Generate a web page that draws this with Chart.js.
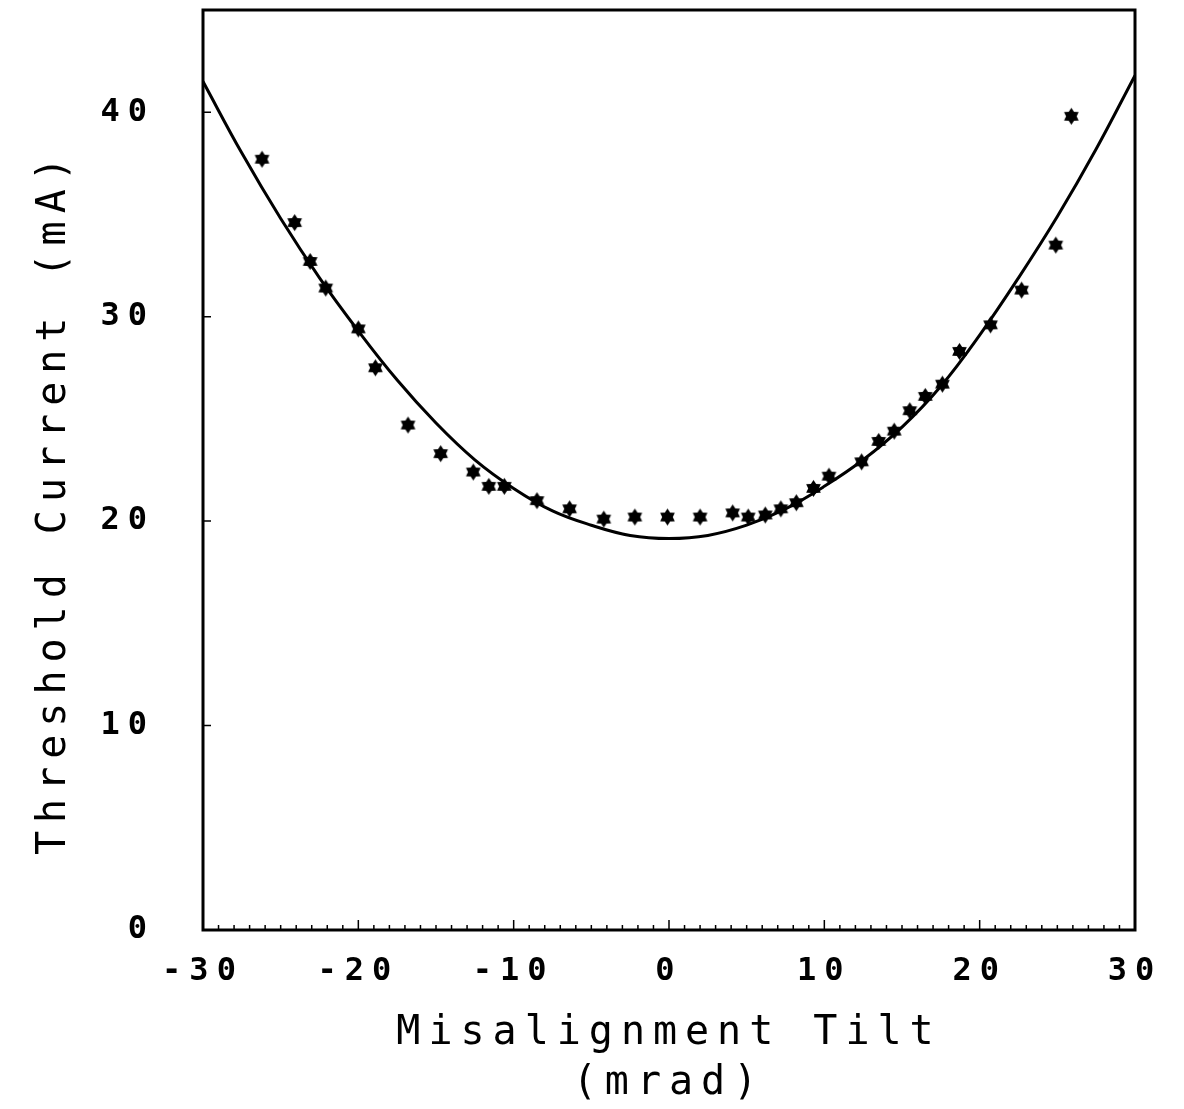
<!DOCTYPE html>
<html>
<head>
<meta charset="utf-8">
<script src="https://cdn.jsdelivr.net/npm/chart.js@4.4.1/dist/chart.umd.min.js"></script>
<style>
    body { margin: 0; background: #ffffff; }
</style>
</head>
<body>
<canvas id="grafico" width="1184" height="1109"></canvas>
<script>
// medições (asteriscos)
const tiltMedido = [-26.2, -24.1, -23.1, -22.1, -20.0, -18.9, -16.8, -14.7, -12.6, -11.6, -10.6, -8.5, -6.4, -4.2, -2.2, -0.1,
    2.0, 4.1, 5.1, 6.2, 7.2, 8.2, 9.3, 10.3, 12.4, 13.5, 14.5, 15.5, 16.5, 17.6, 18.7, 20.7, 22.7, 24.9, 25.9];
const correnteMedida = [37.7, 34.6, 32.7, 31.4, 29.4, 27.5, 24.7, 23.3, 22.4, 21.7, 21.7, 21.0, 20.6, 20.1, 20.2, 20.2,
    20.2, 20.4, 20.2, 20.3, 20.6, 20.9, 21.6, 22.2, 22.9, 23.9, 24.4, 25.4, 26.1, 26.7, 28.3, 29.6, 31.3, 33.5, 39.8];

// curva teórica
const tiltCurva = [-30, -27.5, -25, -22.5, -20, -17.5, -15, -12.5, -10, -7.5, -5, -2.5, 0,
    2.5, 5, 7.5, 10, 12.5, 15, 17.5, 20, 22.5, 25, 27.5, 30];
const correnteCurva = [41.5, 38.0, 34.8, 31.9, 29.3, 26.9, 24.8, 23.0, 21.6, 20.5, 19.8, 19.3, 19.15,
    19.3, 19.8, 20.6, 21.7, 23.0, 24.6, 26.6, 29.1, 31.9, 34.9, 38.2, 41.8];

const tituloX = ['Misalignment Tilt', '(mrad)'];
const tituloY = 'Threshold Current (mA)';

const FONTE = "'DejaVu Sans Mono', 'Liberation Mono', monospace";

function criarAsterisco(r) {
    const c = document.createElement('canvas');
    c.width = c.height = 2 * r + 2;
    const g = c.getContext('2d');
    g.beginPath();
    for (let i = 0; i < 12; i++) {
        const ang = i * Math.PI / 6 - Math.PI / 2;
        const raio = i % 2 ? r * 0.62 : r;
        const px = r + 1 + raio * Math.cos(ang), py = r + 1 + raio * Math.sin(ang);
        if (i === 0) g.moveTo(px, py); else g.lineTo(px, py);
    }
    g.closePath();
    g.fillStyle = '#000';
    g.fill();
    return c;
}

const espacamento = {
    id: 'espacamento',
    beforeUpdate(chart) { chart.ctx.letterSpacing = '8px'; },
    beforeDraw(chart) { chart.ctx.letterSpacing = '8px'; }
};

const moldura = {
    id: 'moldura',
    afterDraw(chart) {
        const { ctx, chartArea: a, scales: { x, y } } = chart;
        ctx.save();
        ctx.strokeStyle = '#000';
        ctx.lineWidth = 3;
        ctx.strokeRect(a.left, a.top, a.right - a.left, a.bottom - a.top);
        ctx.lineWidth = 1.5;
        ctx.beginPath();
        for (let v = x.min; v <= x.max; v++) {
            const px = x.getPixelForValue(v);
            const len = v % 10 === 0 ? 10 : 5;
            ctx.moveTo(px, a.bottom);
            ctx.lineTo(px, a.bottom - len);
        }
        y.ticks.forEach(t => {
            const py = y.getPixelForValue(t.value);
            ctx.moveTo(a.left, py);
            ctx.lineTo(a.left + 8, py);
        });
        ctx.stroke();
        ctx.restore();
    }
};

function semMargem(scale) {
    scale.paddingTop = 0; scale.paddingBottom = 0;
    scale.paddingLeft = 0; scale.paddingRight = 0;
}

const ctx = document.getElementById('grafico').getContext('2d');
new Chart(ctx, {
    type: 'scatter',
    data: {
        datasets: [{
            label: 'medido',
            data: tiltMedido.map((v, i) => ({ x: v, y: correnteMedida[i] })),
            pointStyle: criarAsterisco(8.5),
            pointRadius: 9,
            showLine: false
        }, {
            label: 'curva',
            data: tiltCurva.map((v, i) => ({ x: v, y: correnteCurva[i] })),
            showLine: true,
            borderColor: '#000',
            borderWidth: 3,
            pointRadius: 0,
            tension: 0.4
        }]
    },
    options: {
        responsive: false,
        animation: false,
        devicePixelRatio: 1,
        layout: { padding: { top: 8, right: 49, left: 0, bottom: 0 } },
        plugins: { legend: { display: false }, tooltip: { enabled: false } },
        scales: {
            x: {
                type: 'linear',
                min: -30, max: 30,
                grid: { display: false, drawTicks: false },
                border: { display: false },
                ticks: {
                    stepSize: 10, padding: 22, color: '#000',
                    font: { family: FONTE, size: 32, weight: 'bold' },
                    maxRotation: 0
                },
                title: {
                    display: true, text: tituloX, color: '#000',
                    font: { family: FONTE, size: 40, lineHeight: 1.25 },
                    padding: { top: 0, bottom: 0 }
                },
                afterFit(scale) { scale.height = 179; semMargem(scale); }
            },
            y: {
                min: 0, max: 45,
                grid: { display: false, drawTicks: false },
                border: { display: false },
                ticks: {
                    stepSize: 10, padding: 48, color: '#000', includeBounds: false,
                    font: { family: FONTE, size: 32, weight: 'bold' }
                },
                title: {
                    display: true, text: tituloY + '  ', color: '#000',
                    font: { family: FONTE, size: 40, lineHeight: 1.25 },
                    padding: { top: 30, bottom: 0 }
                },
                afterFit(scale) { scale.width = 203; semMargem(scale); }
            }
        }
    },
    plugins: [espacamento, moldura]
});
</script>
</body>
</html>
